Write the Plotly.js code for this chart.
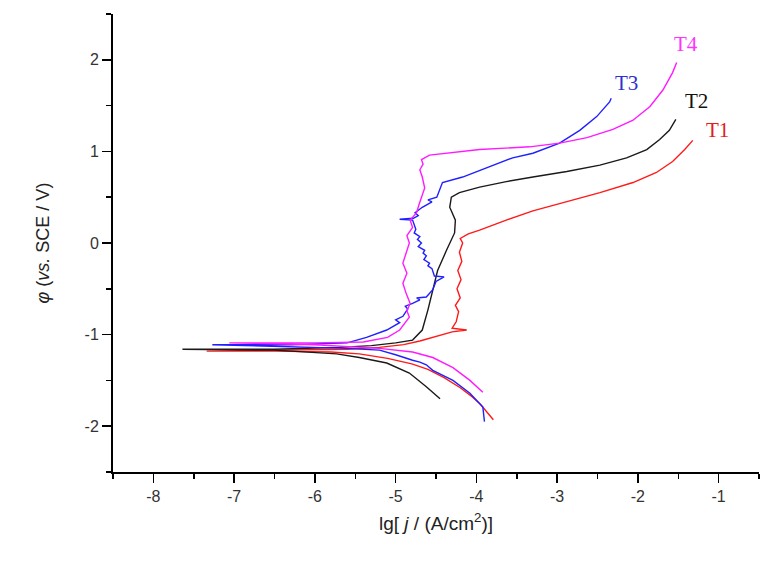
<!DOCTYPE html>
<html>
<head>
<meta charset="utf-8">
<script src="https://cdn.plot.ly/plotly-3.0.1.min.js"></script>
<style>
  html, body { margin: 0; padding: 0; background: #fff; }
  #chart { width: 771px; height: 569px; }
</style>
</head>
<body>
<div id="chart"></div>
<script>
// --- polarization curves: x = lg j, y = potential (V vs SCE) ---
const t1X = [-3.79, -3.85, -3.95, -4.05, -4.2, -4.4, -4.6, -4.8, -5.1, -5.45, -5.8, -6.5, -7.34,
  -6.5, -5.6, -5.2, -4.9, -4.7, -4.5, -4.3, -4.12, -4.3, -4.25, -4.22, -4.26, -4.2, -4.24, -4.19,
  -4.23, -4.18, -4.21, -4.17, -4.2, -4.1, -3.96, -3.63, -3.3, -2.88, -2.47, -2.06, -1.77, -1.57, -1.42, -1.32];
const t1Y = [-1.93, -1.87, -1.76, -1.68, -1.58, -1.47, -1.38, -1.32, -1.26, -1.21, -1.19, -1.18, -1.18,
  -1.17, -1.16, -1.14, -1.11, -1.07, -1.02, -0.97, -0.95, -0.93, -0.86, -0.75, -0.68, -0.6, -0.5, -0.4,
  -0.3, -0.2, -0.1, 0.0, 0.05, 0.1, 0.14, 0.25, 0.35, 0.45, 0.55, 0.66, 0.77, 0.89, 1.02, 1.12];

const t2X = [-4.45, -4.5, -4.62, -4.83, -5.11, -5.45, -5.73, -6.5, -7.64,
  -6.5, -5.7, -5.3, -5.0, -4.79, -4.67, -4.6, -4.54, -4.48, -4.37, -4.27, -4.26, -4.33, -4.31,
  -4.21, -3.96, -3.63, -3.3, -2.88, -2.47, -2.14, -1.89, -1.73, -1.61, -1.53];
const t2Y = [-1.70, -1.66, -1.57, -1.42, -1.31, -1.25, -1.21, -1.17, -1.16,
  -1.16, -1.14, -1.12, -1.09, -1.06, -0.95, -0.73, -0.51, -0.30, -0.08, 0.11, 0.25, 0.39, 0.50,
  0.55, 0.61, 0.67, 0.72, 0.78, 0.85, 0.93, 1.02, 1.13, 1.23, 1.35];

const t3X = [-3.90, -3.91, -3.92, -4.08, -4.29, -4.54, -4.62, -4.7, -4.79, -5.0, -5.2, -5.61, -6.3, -7.27,
  -6.3, -5.6, -5.36, -5.11, -4.95, -5.0, -4.91, -4.85, -4.88, -4.79, -4.7, -4.74, -4.62, -4.58, -4.54,
  -4.5, -4.4, -4.52, -4.55, -4.6, -4.58, -4.65, -4.62, -4.66, -4.64, -4.72, -4.68, -4.73, -4.7, -4.77,
  -4.75, -4.79, -4.95, -4.78, -4.72, -4.76, -4.67, -4.55, -4.6, -4.49, -4.45, -4.42, -4.17, -3.84,
  -3.55, -3.3, -2.97, -2.72, -2.51, -2.35, -2.33];
const t3Y = [-1.95, -1.85, -1.79, -1.64, -1.50, -1.39, -1.33, -1.30, -1.28, -1.22, -1.17, -1.15, -1.13, -1.11,
  -1.11, -1.09, -1.03, -0.95, -0.87, -0.84, -0.80, -0.72, -0.69, -0.66, -0.62, -0.60, -0.59, -0.55, -0.51,
  -0.42, -0.37, -0.36, -0.28, -0.25, -0.22, -0.18, -0.14, -0.11, -0.08, -0.04, 0.0, 0.04, 0.07, 0.11,
  0.15, 0.25, 0.26, 0.27, 0.30, 0.33, 0.39, 0.45, 0.47, 0.50, 0.58, 0.66, 0.72, 0.83,
  0.93, 0.98, 1.09, 1.23, 1.38, 1.54, 1.58];

const t4X = [-3.92, -4.0, -4.08, -4.29, -4.54, -4.79, -5.2, -6.0, -7.06,
  -6.0, -5.4, -5.1, -4.95, -4.83, -4.86, -4.82, -4.87, -4.91, -4.86, -4.91, -4.87, -4.83, -4.86,
  -4.79, -4.82, -4.74, -4.71, -4.68, -4.64, -4.67, -4.7, -4.66, -4.68, -4.58, -3.96, -3.34, -2.97,
  -2.63, -2.31, -2.06, -1.85, -1.69, -1.57, -1.52];
const t4Y = [-1.63, -1.56, -1.50, -1.36, -1.25, -1.19, -1.15, -1.11, -1.09,
  -1.09, -1.08, -1.03, -0.95, -0.81, -0.74, -0.66, -0.55, -0.44, -0.33, -0.22, -0.11, 0.0, 0.08,
  0.17, 0.25, 0.33, 0.42, 0.50, 0.60, 0.72, 0.80, 0.86, 0.91, 0.96, 1.02, 1.05, 1.09,
  1.15, 1.24, 1.34, 1.49, 1.67, 1.86, 1.97];

const seriesNames = ['T1', 'T2', 'T3', 'T4'];
const lineColors = ['#ff1a1a', '#1a1a1a', '#1f1fff', '#ff1aff'];
const labelColors = ['#e02020', '#111111', '#3030d0', '#ff33ff'];
const labelX = [-1.02, -1.28, -2.14, -1.41];
const labelY = [1.23, 1.55, 1.75, 2.17];

const xTicks = [-8, -7, -6, -5, -4, -3, -2, -1];
const yTicks = [-2, -1, 0, 1, 2];

const xs = [t1X, t2X, t3X, t4X];
const ys = [t1Y, t2Y, t3Y, t4Y];

const traces = xs.map((x, i) => ({
  x: x,
  y: ys[i],
  type: 'scatter',
  mode: 'lines',
  name: seriesNames[i],
  line: { color: lineColors[i], width: 1.4 },
  showlegend: false
}));

// --- curve labels ---
const annotations = seriesNames.map((n, i) => ({
  x: labelX[i], y: labelY[i], xref: 'x', yref: 'y',
  text: n, showarrow: false,
  font: { family: 'Liberation Serif, Times New Roman, serif', size: 21, color: labelColors[i] }
}));

const axisCommon = {
  showgrid: false, zeroline: false,
  showline: true, linecolor: '#000', linewidth: 2,
  ticks: 'outside', ticklen: 9, tickwidth: 1.5, tickcolor: '#000',
  tickfont: { family: 'Liberation Sans, Arial, sans-serif', size: 16, color: '#333' },
  minor: { ticks: 'outside', ticklen: 5, tickwidth: 1.5, tickcolor: '#000', dtick: 0.5 }
};

const layout = {
  width: 771,
  height: 569,
  margin: { l: 113, r: 12, t: 14, b: 97 },
  paper_bgcolor: '#fff',
  plot_bgcolor: '#fff',
  xaxis: Object.assign({}, axisCommon, {
    range: [-8.5, -0.5], tickvals: xTicks, ticktext: xTicks.map(String),
    title: { text: 'lg[ <i>j</i> / (A/cm<sup>2</sup>)]', standoff: 12,
      font: { family: 'Liberation Sans, Arial, sans-serif', size: 19, color: '#222' } }
  }),
  yaxis: Object.assign({}, axisCommon, {
    range: [-2.5, 2.5], tickvals: yTicks, ticktext: yTicks.map(String),
    title: { text: '<i>φ</i> (<i>vs.</i> SCE / V)', standoff: 30,
      font: { family: 'Liberation Sans, Arial, sans-serif', size: 18, color: '#222' } }
  }),
  annotations: annotations
};

Plotly.newPlot('chart', traces, layout, { displayModeBar: false, staticPlot: true });
</script>
</body>
</html>
